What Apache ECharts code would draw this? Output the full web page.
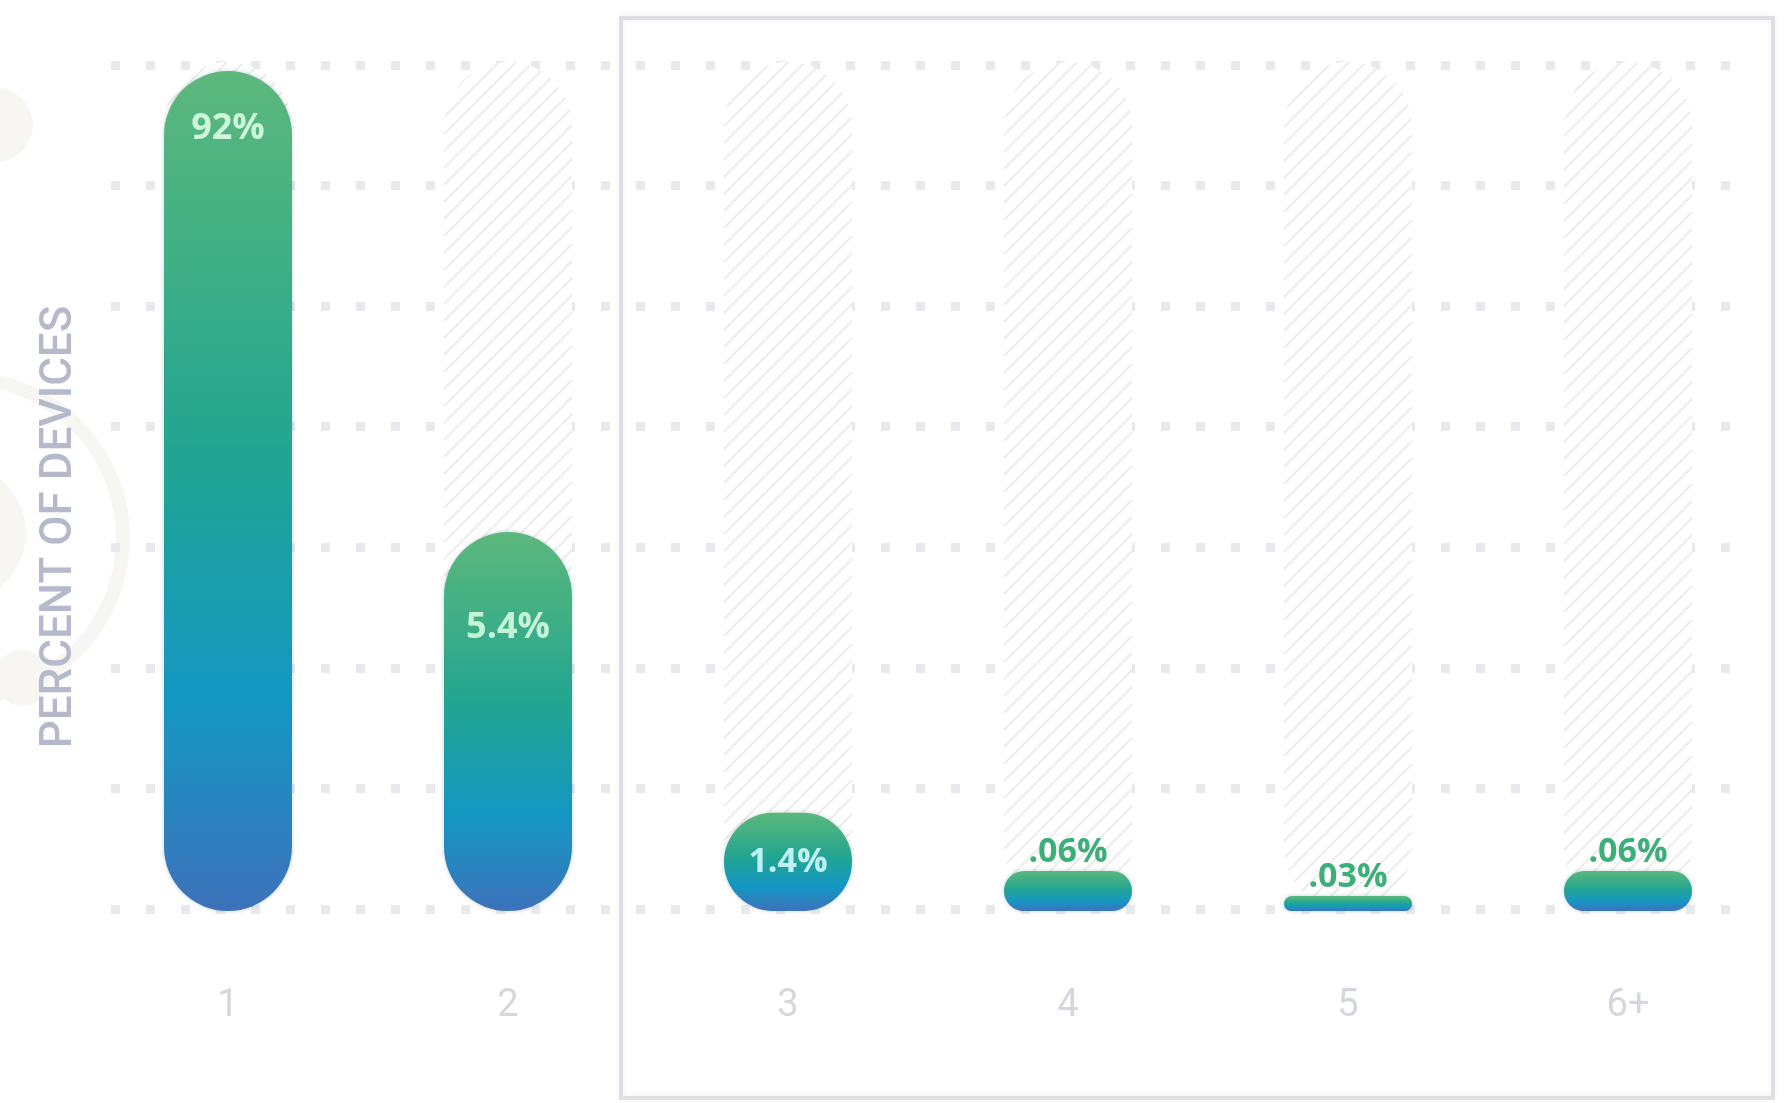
<!DOCTYPE html>
<html>
<head>
<meta charset="utf-8">
<title>Devices per user</title>
<script src="https://cdn.jsdelivr.net/npm/echarts@6.0.0/dist/echarts.min.js"></script>
<style>
  html, body { margin: 0; padding: 0; background: #ffffff; }
  #chart { width: 1788px; height: 1103px; }
</style>
</head>
<body>
<div id="chart"></div>
<script>
// Number of devices per account and the share of accounts with that many
const categories = ['1', '2', '3', '4', '5', '6+'];
const shares = [92, 5.4, 1.4, 0.06, 0.03, 0.06];
const shareLabels = ['92%', '5.4%', '1.4%', '.06%', '.03%', '.06%'];
// evenly spaced dotted guide lines (0..7)
const guideSteps = [0, 7];

// diagonal hatch used for the empty track behind every bar
function hatchPattern() {
  const size = 17;
  const c = document.createElement('canvas');
  c.width = size; c.height = size;
  const ctx = c.getContext('2d');
  ctx.fillStyle = '#ffffff';
  ctx.fillRect(0, 0, size, size);
  ctx.strokeStyle = '#ececed';
  ctx.lineWidth = 2;
  ctx.beginPath();
  ctx.moveTo(-2, size + 2); ctx.lineTo(size + 2, -2);
  ctx.moveTo(-2 - size, size + 2); ctx.lineTo(2, -2);
  ctx.moveTo(size - 2, 2 * size + 2); ctx.lineTo(2 * size + 2, size - 2);
  ctx.stroke();
  return { image: c, repeat: 'repeat' };
}

const barGradient = {
  type: 'linear', x: 0, y: 0, x2: 0, y2: 1,
  colorStops: [
    { offset: 0, color: '#5cb87c' },
    { offset: 0.45, color: '#22a590' },
    { offset: 0.75, color: '#1497c3' },
    { offset: 1, color: '#3d72ba' }
  ]
};

// label placement per bar: big bars carry the value inside, tiny ones above
function labelFor(i) {
  const base = { show: true, formatter: shareLabels[i], fontFamily: 'Open Sans',
                 fontWeight: 'bold', fontSize: 36 };
  if (i === 0) return Object.assign(base, { position: 'insideTop', distance: 40, color: '#cdf6da' });
  if (i === 1) return Object.assign(base, { position: 'insideTop', distance: 78, color: '#c6f3d6' });
  if (i === 2) return Object.assign(base, { position: 'inside', color: '#bff0f4', fontSize: 34 });
  return Object.assign(base, { position: 'top', distance: 2, color: '#3cae78', fontSize: 34 });
}

// very small shares get a thinner minimum pill than the rest
const tinyShare = 0.05;
const mainData = shares.map((v, i) => v >= tinyShare ? { value: v, label: labelFor(i) } : '-');
const tinyData = shares.map((v, i) => v < tinyShare ? { value: v, label: labelFor(i) } : '-');

const chart = echarts.init(document.getElementById('chart'), null, { renderer: 'canvas' });

const faint = '#f7f6f3';
chart.setOption({
  backgroundColor: '#ffffff',
  animation: false,
  graphic: [
    // faint decorative shapes on the left edge
    { type: 'circle', z: -2, shape: { cx: -4, cy: 125, r: 37 }, style: { fill: faint } },
    { type: 'circle', z: -2, shape: { cx: -37, cy: 538, r: 160 }, style: { fill: 'none', stroke: faint, lineWidth: 14 } },
    { type: 'circle', z: -2, shape: { cx: -42, cy: 533, r: 68 }, style: { fill: faint } },
    { type: 'circle', z: -2, shape: { cx: 22, cy: 678, r: 28 }, style: { fill: faint } },
    // framed panel around columns 3 to 6+
    { type: 'rect', z: -1, shape: { x: 621, y: 18, width: 1152, height: 1080 },
      style: { fill: 'none', stroke: '#dedfe4', lineWidth: 4,
               shadowBlur: 6, shadowColor: 'rgba(0,0,0,0.06)', shadowOffsetY: -1 } },
    { type: 'text', z: 5, x: 60, y: 527, rotation: Math.PI / 2,
      style: { text: 'PERCENT OF DEVICES', fill: '#b4b9cb', fontSize: 44, fontWeight: 500,
               fontFamily: 'Roboto', align: 'center', verticalAlign: 'middle' } }
  ],
  grid: [
    { left: 88, right: 20, top: 62, bottom: 192 },
    { left: 111, right: 43, top: 65, bottom: 194 }
  ],
  xAxis: [
    { type: 'category', gridIndex: 0, data: categories,
      axisLine: { show: false }, axisTick: { show: false }, splitLine: { show: false },
      axisLabel: { margin: 76, fontSize: 38, color: '#d5d7de', fontFamily: 'Roboto' } },
    { type: 'value', gridIndex: 1, show: false, min: 0, max: 1 }
  ],
  yAxis: [
    { type: 'value', gridIndex: 0, min: 0, max: 92.13,
      breaks: [{ start: 5.8, end: 91, gap: 5.17 }],
      breakArea: { show: false },
      axisLine: { show: false }, axisTick: { show: false },
      axisLabel: { show: false }, splitLine: { show: false } },
    { type: 'value', gridIndex: 1, min: guideSteps[0], max: guideSteps[1], interval: 1,
      axisLine: { show: false }, axisTick: { show: false }, axisLabel: { show: false },
      splitLine: { show: true, lineStyle: { color: '#e8e9ec', width: 9, type: [9, 26] } } }
  ],
  series: [
    {
      name: 'share',
      type: 'bar',
      xAxisIndex: 0, yAxisIndex: 0,
      data: mainData,
      barWidth: 128,
      barGap: '-100%',
      barMinHeight: 40,
      showBackground: true,
      backgroundStyle: { color: hatchPattern(), borderRadius: 64 },
      itemStyle: { color: barGradient, borderRadius: 64,
                   shadowBlur: 4, shadowColor: 'rgba(40,60,120,0.25)' },
      z: 3
    },
    {
      name: 'share (tiny)',
      type: 'bar',
      xAxisIndex: 0, yAxisIndex: 0,
      data: tinyData,
      barWidth: 128,
      barGap: '-100%',
      barMinHeight: 15,
      itemStyle: { color: barGradient, borderRadius: [8, 8, 7, 7],
                   shadowBlur: 4, shadowColor: 'rgba(40,60,120,0.25)' },
      z: 4
    }
  ]
});
</script>
</body>
</html>
